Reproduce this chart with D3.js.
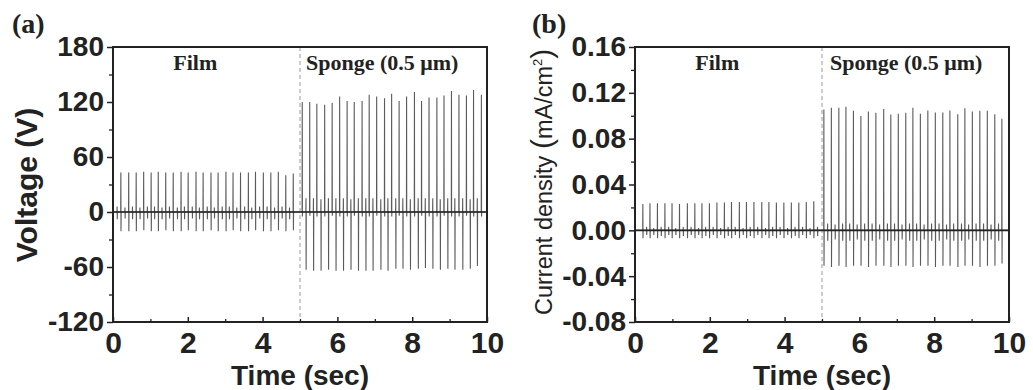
<!DOCTYPE html>
<html>
<head>
<meta charset="utf-8">
<script src="https://cdn.jsdelivr.net/npm/d3@7"></script>
<style>
  body { margin: 0; background: #fff; }
  svg { display: block; }
</style>
</head>
<body>
<svg id="chart" width="1033" height="390"></svg>
<script>
// ---- tick labels ----
const timeTicks = [0, 2, 4, 6, 8, 10];
const timeMinor = [1, 3, 5, 7, 9];
const voltTicks = [-120, -60, 0, 60, 120, 180];
const voltMinor = [-90, -30, 30, 90, 150];
const curTicks = [-0.08, -0.04, 0.00, 0.04, 0.08, 0.12, 0.16];
const curMinor = [-0.06, -0.02, 0.02, 0.06, 0.10, 0.14];

// ---- (a) voltage, film: main pulses ----
const voltFilmTimes = [0.21, 0.42, 0.62, 0.82, 1.02, 1.21, 1.41, 1.61, 1.82, 2.01, 2.22, 2.41,
                       2.62, 2.81, 3.02, 3.21, 3.41, 3.62, 3.81, 4.02, 4.22, 4.42, 4.62, 4.82];
const voltFilmPeaks = [43, 43, 43, 44, 43, 44, 43, 43, 44, 43, 44, 43,
                       43, 43, 44, 43, 43, 43, 44, 43, 43, 44, 40, 42];
const voltFilmTroughs = [-21, -21, -21, -20, -21, -21, -20, -21, -21, -20, -21, -21,
                         -20, -21, -21, -20, -21, -21, -20, -21, -21, -20, -21, -20];
// small in-between pulses
const voltFilmSubTimes = [0.11, 0.32, 0.52, 0.72, 0.92, 1.11, 1.31, 1.51, 1.72, 1.91, 2.12, 2.31,
                          2.52, 2.71, 2.92, 3.11, 3.31, 3.52, 3.71, 3.92, 4.12, 4.32, 4.52, 4.72];
const voltFilmSubPeaks = [6, 5, 6, 5, 6, 6, 5, 6, 5, 6, 6, 5, 6, 5, 6, 6, 5, 6, 5, 6, 6, 5, 6, 5];
const voltFilmSubTroughs = [-8, -7, -8, -8, -7, -8, -8, -7, -8, -8, -7, -8,
                            -8, -7, -8, -8, -7, -8, -8, -7, -8, -8, -7, -8];

// ---- (a) voltage, sponge ----
const voltSpongeTimes = [5.06, 5.26, 5.45, 5.66, 5.86, 6.06, 6.26, 6.45, 6.66, 6.85, 7.05, 7.26, 7.45,
                         7.65, 7.85, 8.06, 8.25, 8.45, 8.66, 8.85, 9.05, 9.25, 9.45, 9.64, 9.85];
const voltSpongePeaks = [120, 120, 118, 117, 119, 126, 121, 120, 121, 128, 126, 124, 129,
                         121, 126, 131, 121, 125, 125, 127, 132, 128, 127, 133, 128];
const voltSpongeTroughs = [-5, -4, -5, -5, -4, -5, -5, -4, -5, -5, -4, -5, -5,
                           -4, -5, -5, -4, -5, -5, -4, -5, -5, -4, -5, -5];
const voltSpongeSubTimes = [5.16, 5.36, 5.56, 5.76, 5.96, 6.16, 6.36, 6.56, 6.76, 6.95, 7.16, 7.35,
                            7.56, 7.75, 7.95, 8.16, 8.35, 8.55, 8.75, 8.95, 9.14, 9.35, 9.55, 9.74];
const voltSpongeSubPeaks = [15, 15, 14, 15, 15, 15, 14, 15, 15, 15, 14, 15,
                            15, 15, 14, 15, 15, 15, 14, 15, 15, 15, 14, 15];
const voltSpongeSubTroughs = [-63, -64, -64, -63, -64, -64, -63, -64, -64, -64, -63, -64,
                              -62, -62, -63, -62, -61, -62, -63, -62, -63, -63, -62, -59];

// ---- (b) current density, film ----
const curFilmTimes = [0.21, 0.40, 0.60, 0.80, 0.99, 1.19, 1.40, 1.60, 1.79, 1.99, 2.19, 2.39,
                      2.58, 2.79, 2.98, 3.18, 3.39, 3.58, 3.78, 3.98, 4.18, 4.38, 4.58, 4.78];
const curFilmPeaks = [0.0230, 0.0236, 0.0236, 0.0236, 0.0236, 0.0230, 0.0236, 0.0236, 0.0236, 0.0236, 0.0242, 0.0242,
                      0.0247, 0.0247, 0.0247, 0.0247, 0.0247, 0.0247, 0.0242, 0.0242, 0.0242, 0.0242, 0.0247, 0.0253];
const curFilmTroughs = [-0.007, -0.007, -0.007, -0.007, -0.007, -0.007, -0.007, -0.007, -0.007, -0.007, -0.007, -0.007,
                        -0.007, -0.007, -0.007, -0.007, -0.007, -0.007, -0.007, -0.007, -0.007, -0.007, -0.007, -0.007];
const curFilmSubTimes = [0.31, 0.50, 0.70, 0.90, 1.09, 1.29, 1.50, 1.70, 1.89, 2.09, 2.29, 2.49,
                         2.68, 2.89, 3.08, 3.28, 3.49, 3.68, 3.88, 4.08, 4.28, 4.48, 4.68, 4.88];
const curFilmSubPeaks = [0.003, 0.002, 0.003, 0.003, 0.002, 0.003, 0.003, 0.002, 0.003, 0.003, 0.002, 0.003,
                         0.003, 0.002, 0.003, 0.003, 0.002, 0.003, 0.003, 0.002, 0.003, 0.003, 0.002, 0.003];
const curFilmSubTroughs = [-0.004, -0.004, -0.005, -0.004, -0.004, -0.005, -0.004, -0.004, -0.005, -0.004, -0.004, -0.005,
                           -0.004, -0.004, -0.005, -0.004, -0.004, -0.005, -0.004, -0.004, -0.005, -0.004, -0.004, -0.005];

// ---- (b) current density, sponge ----
const curSpongeTimes = [5.05, 5.25, 5.45, 5.64, 5.84, 6.04, 6.24, 6.44, 6.65, 6.84, 7.04, 7.24, 7.43,
                        7.63, 7.83, 8.03, 8.23, 8.42, 8.63, 8.82, 9.02, 9.22, 9.42, 9.62, 9.81];
const curSpongePeaks = [0.1055, 0.1069, 0.1069, 0.1078, 0.1043, 0.0997, 0.1037, 0.1026, 0.1058, 0.1011, 0.1017, 0.1026, 0.1069,
                        0.1017, 0.1046, 0.1029, 0.1029, 0.1046, 0.1014, 0.1066, 0.1037, 0.1043, 0.1043, 0.1014, 0.0973];
const curSpongeTroughs = [-0.031, -0.032, -0.031, -0.032, -0.031, -0.031, -0.032, -0.031, -0.031, -0.032, -0.031, -0.031, -0.032,
                          -0.031, -0.031, -0.032, -0.031, -0.031, -0.032, -0.031, -0.031, -0.032, -0.031, -0.031, -0.029];
const curSpongeSubTimes = [5.15, 5.35, 5.55, 5.74, 5.94, 6.14, 6.34, 6.54, 6.75, 6.94, 7.14, 7.34,
                           7.53, 7.73, 7.93, 8.13, 8.33, 8.52, 8.73, 8.92, 9.12, 9.32, 9.52, 9.72];
const curSpongeSubPeaks = [0.006, 0.005, 0.006, 0.006, 0.005, 0.006, 0.006, 0.005, 0.006, 0.006, 0.005, 0.006,
                           0.006, 0.005, 0.006, 0.006, 0.005, 0.006, 0.006, 0.005, 0.006, 0.006, 0.005, 0.006];
const curSpongeSubTroughs = [-0.009, -0.008, -0.009, -0.009, -0.008, -0.009, -0.009, -0.008, -0.009, -0.009, -0.008, -0.009,
                             -0.009, -0.008, -0.009, -0.009, -0.008, -0.009, -0.009, -0.008, -0.009, -0.009, -0.008, -0.009];

const svg = d3.select("#chart");
const SANS = "'Liberation Sans', Arial, Helvetica, sans-serif";
const SERIF = "'Liberation Serif', 'Times New Roman', serif";

// collect pulses from parallel arrays
function pulses(times, hi, lo) {
  return times.map((t, i) => ({ t: t, hi: hi[i], lo: lo[i] }));
}

function drawPanel(p) {
  const x = d3.scaleLinear([0, 10], [p.left, p.right]);
  const y = d3.scaleLinear(p.yDomain, [p.bottom, p.top]);
  const g = svg.append("g");

  // signal trace: baseline with vertical excursions
  const ev = p.events.slice().sort((a, b) => a.t - b.t);
  const eps = 0.004;
  const pts = [[0, 0]];
  ev.forEach(e => {
    pts.push([e.t - eps, 0], [e.t, e.hi], [e.t + eps, e.lo], [e.t + 2 * eps, 0]);
  });
  pts.push([10, 0]);

  const line = d3.line().x(d => x(d[0])).y(d => y(d[1]));

  // dashed divider at 5 s
  g.append("line")
    .attr("x1", x(5)).attr("x2", x(5))
    .attr("y1", p.top).attr("y2", p.bottom)
    .attr("stroke", "#9a9a9a").attr("stroke-width", 1)
    .attr("stroke-dasharray", "4,3");

  g.append("path")
    .attr("d", line(pts))
    .attr("fill", "none")
    .attr("stroke", "#5a5a5a")
    .attr("stroke-width", 1.1);

  g.append("path")
    .attr("d", line([[0, 0], [10, 0]]))
    .attr("fill", "none")
    .attr("stroke", "#222")
    .attr("stroke-width", 1.6);

  // axes
  const yAxis = g.append("g")
    .attr("transform", `translate(${p.left},0)`)
    .call(d3.axisLeft(y).tickValues(p.yTicks).tickSize(6).tickPadding(3).tickFormat(p.fmt))
    .call(a => a.select(".domain").remove());
  yAxis.selectAll("line").attr("stroke", "#222").attr("stroke-width", 1.5);
  yAxis.selectAll("text")
    .attr("font-family", SANS).attr("font-size", 28).attr("font-weight", "bold").attr("fill", "#222");

  g.append("g")
    .attr("transform", `translate(${p.left},0)`)
    .call(d3.axisLeft(y).tickValues(p.yMinor).tickSize(4).tickFormat(""))
    .call(a => a.select(".domain").remove())
    .selectAll("line").attr("stroke", "#222").attr("stroke-width", 1.3);

  const xAxis = g.append("g")
    .attr("transform", `translate(0,${p.bottom})`)
    .call(d3.axisBottom(x).tickValues(timeTicks).tickSize(-5).tickFormat(d => String(d)))
    .call(a => a.select(".domain").remove());
  xAxis.selectAll("line").attr("stroke", "#222").attr("stroke-width", 1.5);
  xAxis.selectAll("text")
    .attr("y", 31).attr("dy", null)
    .attr("font-family", SANS).attr("font-size", 30).attr("font-weight", "bold").attr("fill", "#222");

  g.append("g")
    .attr("transform", `translate(0,${p.bottom})`)
    .call(d3.axisBottom(x).tickValues(timeMinor).tickSize(-3).tickFormat(""))
    .call(a => a.select(".domain").remove())
    .selectAll("line").attr("stroke", "#222").attr("stroke-width", 1.3);

  // frame
  g.append("rect")
    .attr("x", p.left).attr("y", p.top)
    .attr("width", p.right - p.left).attr("height", p.bottom - p.top)
    .attr("fill", "none").attr("stroke", "#222").attr("stroke-width", 2);

  // region labels
  g.append("text")
    .attr("x", x(2.2)).attr("y", p.top + 23)
    .attr("text-anchor", "middle")
    .attr("font-family", SERIF).attr("font-weight", "bold").attr("font-size", 22).attr("fill", "#222")
    .text("Film");
  g.append("text")
    .attr("x", x(5) + p.spongeGap).attr("y", p.top + 23)
    .attr("font-family", SERIF).attr("font-weight", "bold").attr("font-size", 22).attr("fill", "#222")
    .text("Sponge (0.5 \u03bcm)");

  // panel letter
  g.append("text")
    .attr("x", p.letterX).attr("y", 33)
    .attr("font-family", SERIF).attr("font-weight", "bold").attr("font-size", 28).attr("fill", "#222")
    .text(p.letter);

  // x title
  g.append("text")
    .attr("x", (p.left + p.right) / 2).attr("y", 385)
    .attr("text-anchor", "middle")
    .attr("font-family", SANS).attr("font-weight", "bold").attr("font-size", 28).attr("fill", "#222")
    .text("Time (sec)");

  return g;
}

const gA = drawPanel({
  left: 113, right: 487, top: 47, bottom: 322,
  yDomain: [-120, 180], yTicks: voltTicks, yMinor: voltMinor,
  fmt: d => String(d),
  events: [].concat(
    pulses(voltFilmTimes, voltFilmPeaks, voltFilmTroughs),
    pulses(voltFilmSubTimes, voltFilmSubPeaks, voltFilmSubTroughs),
    pulses(voltSpongeTimes, voltSpongePeaks, voltSpongeTroughs),
    pulses(voltSpongeSubTimes, voltSpongeSubPeaks, voltSpongeSubTroughs)),
  spongeGap: 6, letter: "(a)", letterX: 12
});

gA.append("text")
  .attr("transform", "translate(37,185) rotate(-90)")
  .attr("text-anchor", "middle")
  .attr("font-family", SANS).attr("font-weight", "bold").attr("font-size", 30).attr("fill", "#222")
  .text("Voltage (V)");

const gB = drawPanel({
  left: 635, right: 1009, top: 47, bottom: 322,
  yDomain: [-0.08, 0.16], yTicks: curTicks, yMinor: curMinor,
  fmt: d => d.toFixed(2),
  events: [].concat(
    pulses(curFilmTimes, curFilmPeaks, curFilmTroughs),
    pulses(curFilmSubTimes, curFilmSubPeaks, curFilmSubTroughs),
    pulses(curSpongeTimes, curSpongePeaks, curSpongeTroughs),
    pulses(curSpongeSubTimes, curSpongeSubPeaks, curSpongeSubTroughs)),
  spongeGap: 8, letter: "(b)", letterX: 532
});

const ct = gB.append("text")
  .attr("transform", "translate(552,315) rotate(-90)")
  .attr("font-family", SANS).attr("font-size", 23.5).attr("fill", "#222");
ct.append("tspan").text("Current density ");
ct.append("tspan").attr("font-size", 30).text("(");
ct.append("tspan").text("mA/cm");
ct.append("tspan").attr("font-size", 13).attr("dy", -10).text("2");
ct.append("tspan").attr("font-size", 30).attr("dy", 10).text(")");
</script>
</body>
</html>
